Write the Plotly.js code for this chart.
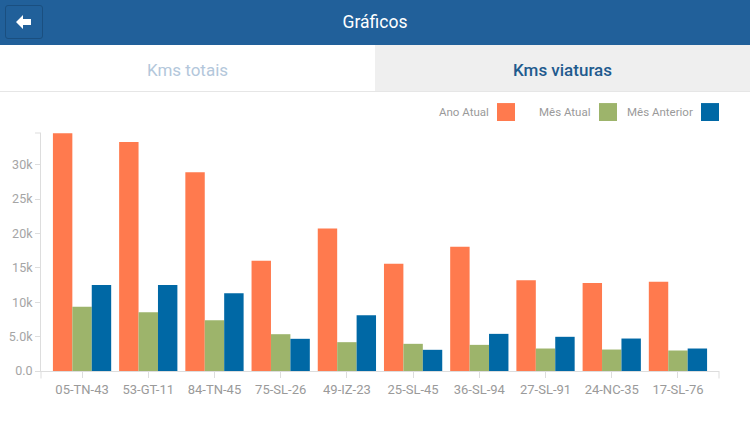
<!DOCTYPE html>
<html>
<head>
<meta charset="utf-8">
<script src="https://cdn.plot.ly/plotly-3.0.1.min.js"></script>
<style>
  html, body { margin:0; padding:0; width:750px; height:422px; overflow:hidden; background:#fff; font-family: Roboto, "Liberation Sans", sans-serif; }
  #header { position:absolute; left:0; top:0; width:750px; height:45px; background:#21609a; }
  #back { position:absolute; left:5px; top:5px; width:38px; height:34px; border:1px solid #1a4f80; border-radius:3px; box-sizing:border-box; background:#21609a; }
  #back svg { position:absolute; left:10px; top:9px; }
  #title { position:absolute; left:0; width:750px; top:0; height:45px; line-height:45px; text-align:center; color:#fff; font-size:17.5px; }
  #tabs { position:absolute; left:0; top:45px; width:750px; height:47px; border-bottom:1px solid #e6e6e6; box-sizing:border-box; }
  #tab1 { position:absolute; left:0; top:0; width:375px; height:46px; background:#fff; color:#b3c7db; font-size:17px; text-align:center; line-height:50px; }
  #tab2 { position:absolute; left:375px; top:0; width:375px; height:46px; background:#efefef; color:#1f5b8e; font-size:17px; font-weight:500; text-align:center; line-height:50px; }
  #chart { position:absolute; left:0; top:0; width:750px; height:422px; }
</style>
</head>
<body>
<div id="chart"></div>
<div id="header">
  <div id="back"><svg width="16" height="14" viewBox="0 0 16 14"><path d="M0 7 L7 0 L7 4 L15 4 L15 10 L7 10 L7 14 Z" fill="#fff"/></svg></div>
  <div id="title">Gráficos</div>
</div>
<div id="tabs">
  <div id="tab1">Kms totais</div>
  <div id="tab2">Kms viaturas</div>
</div>
<script>
const categories = ['05-TN-43','53-GT-11','84-TN-45','75-SL-26','49-IZ-23','25-SL-45','36-SL-94','27-SL-91','24-NC-35','17-SL-76'];
const anoAtual    = [34550, 33300, 28890, 16010, 20700, 15580, 18050, 13200, 12810, 12960];
const mesAtual    = [9330, 8540, 7380, 5350, 4190, 3950, 3800, 3270, 3120, 2980];
const mesAnterior = [12520, 12520, 11310, 4680, 8110, 3080, 5400, 4970, 4720, 3270];
const seriesNames = ['Ano Atual','Mês Atual','Mês Anterior'];
const seriesColors = ['#ff7a4e','#9db46b','#0068a5'];
const yTickVals = [0, 5000, 10000, 15000, 20000, 25000, 30000];
const yTickText = ['0.0','5.0k','10k','15k','20k','25k','30k'];

const seriesData = [anoAtual, mesAtual, mesAnterior];
const traces = seriesData.map((vals, i) => ({
  type:'bar', x:categories, y:vals, name:seriesNames[i],
  marker:{color:seriesColors[i]}, hoverinfo:'skip'
}));

// custom legend: text then swatch (positions in pixels)
const legendItems = [
  {textRight: 491, swatchL: 497},
  {textRight: 593, swatchL: 599},
  {textRight: 695, swatchL: 701}
];
const L = 41, R = 31, T = 133, B = 50.5;
const pw = 750 - L - R, ph = 422 - T - B;
const px2x = p => (p - L) / pw;
const py2y = p => (422 - B - p) / ph;

const annotations = [], shapes = [];
legendItems.forEach((it, i) => {
  annotations.push({xref:'paper', yref:'paper', x:px2x(it.textRight), y:py2y(112), xanchor:'right', yanchor:'middle',
    text:seriesNames[i], showarrow:false, font:{size:11.5, color:'#9a9a9a', family:'Roboto, sans-serif'}});
  shapes.push({type:'rect', xref:'paper', yref:'paper', x0:px2x(it.swatchL), x1:px2x(it.swatchL+18), y0:py2y(121), y1:py2y(103),
    fillcolor:seriesColors[i], line:{width:0}});
});
// axis end caps
shapes.push({type:'line', xref:'paper', yref:'paper', x0:1, x1:1, y0:0, y1:py2y(379), line:{color:'#dddddd', width:1}});
shapes.push({type:'line', xref:'paper', yref:'paper', x0:0, x1:0, y0:0, y1:py2y(379), line:{color:'#dddddd', width:1}});
shapes.push({type:'line', xref:'paper', yref:'paper', x0:0, x1:px2x(35), y0:1, y1:1, line:{color:'#dddddd', width:1}});

const layout = {
  width:750, height:422,
  margin:{l:L, r:R, t:T, b:B, pad:0},
  paper_bgcolor:'#ffffff', plot_bgcolor:'#ffffff',
  showlegend:false,
  barmode:'group', bargap:0.12, bargroupgap:0,
  font:{family:'Roboto, sans-serif', color:'#999999'},
  xaxis:{type:'category', range:[-0.62, 9.62], showgrid:false, zeroline:false,
    showline:true, linecolor:'#dddddd', linewidth:1,
    ticks:'outside', ticklen:6, tickcolor:'#dddddd', tickfont:{size:13, color:'#9a9a9a'}},
  yaxis:{range:[0, 34600], showgrid:false, zeroline:false,
    showline:true, linecolor:'#dddddd', linewidth:1,
    ticks:'outside', ticklen:5, tickcolor:'#dddddd',
    tickvals:yTickVals, ticktext:yTickText, tickfont:{size:12.5, color:'#a5a5a5'}},
  annotations:annotations, shapes:shapes
};
Plotly.newPlot('chart', traces, layout, {staticPlot:true, displayModeBar:false});
</script>
</body>
</html>
